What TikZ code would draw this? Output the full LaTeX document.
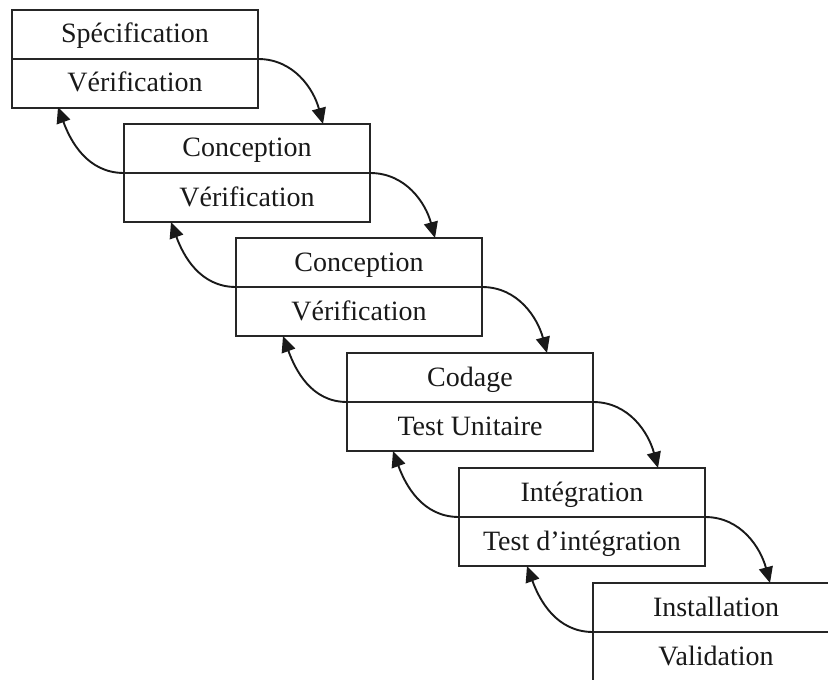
\documentclass[tikz,border=0pt]{standalone}
\usepackage{fontspec}
\setmainfont{Liberation Serif}
\usetikzlibrary{arrows.meta}
\begin{document}
\begin{tikzpicture}[x=0.5pt,y=-0.5pt,
  half/.style={draw=black!85, line width=0.95pt, minimum width=123pt, minimum height=24.5pt,
    inner sep=0pt, outer sep=0pt, anchor=north west, text height=11pt, text depth=2.5pt,
    font=\fontsize{14}{16}\selectfont, text=black!90},
  arr/.style={-{Triangle[length=8pt,width=7pt]}, line width=0.95pt, draw=black!90}]
\useasboundingbox (0,0) rectangle (828,679);
\clip (0,0) rectangle (828,679);
% boxes
\node[half] (t1) at (12,10) {Spécification};
\node[half] (b1) at (t1.south west) {Vérification};
\node[half] (t2) at (124,124) {Conception};
\node[half] (b2) at (t2.south west) {Vérification};
\node[half] (t3) at (236,238) {Conception};
\node[half] (b3) at (t3.south west) {Vérification};
\node[half] (t4) at (347,353) {Codage};
\node[half] (b4) at (t4.south west) {Test Unitaire};
\node[half] (t5) at (459,468) {Intégration};
\node[half] (b5) at (t5.south west) {Test d’intégration};
\node[half] (t6) at (593,583) {Installation};
\node[half] (b6) at (t6.south west) {Validation};
% arrow end points
\coordinate (f2) at (323,124);
\coordinate (f3) at (435,238);
\coordinate (f4) at (547,353);
\coordinate (f5) at (658,468);
\coordinate (f6) at (770,583);
\coordinate (r1) at (58,107);
\coordinate (r2) at (171,222);
\coordinate (r3) at (283,336);
\coordinate (r4) at (393,451);
\coordinate (r5) at (527,566);
% forward arrows
\draw[arr] (t1.south east) to[out=0,in=105] (f2);
\draw[arr] (t2.south east) to[out=0,in=105] (f3);
\draw[arr] (t3.south east) to[out=0,in=105] (f4);
\draw[arr] (t4.south east) to[out=0,in=105] (f5);
\draw[arr] (t5.south east) to[out=0,in=105] (f6);
% backward arrows
\draw[arr] (t2.south west) to[out=180,in=-70] (r1);
\draw[arr] (t3.south west) to[out=180,in=-70] (r2);
\draw[arr] (t4.south west) to[out=180,in=-70] (r3);
\draw[arr] (t5.south west) to[out=180,in=-70] (r4);
\draw[arr] (t6.south west) to[out=180,in=-70] (r5);
\end{tikzpicture}
\end{document}
